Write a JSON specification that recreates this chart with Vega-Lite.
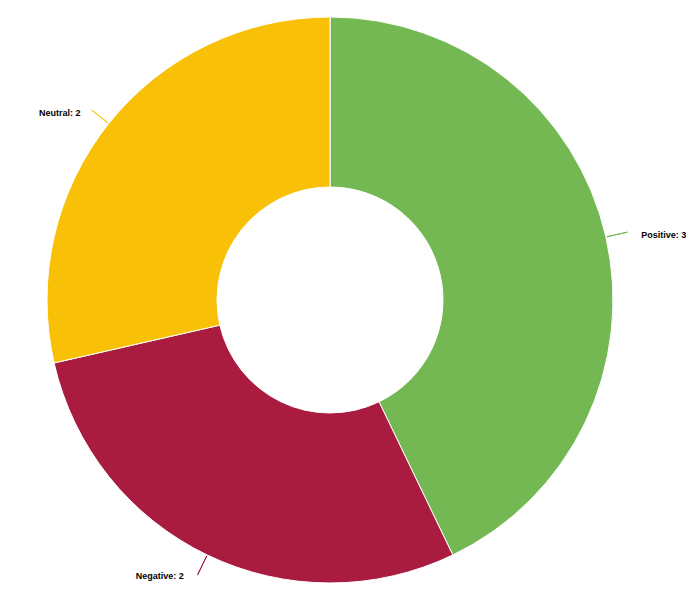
{
  "$schema": "https://vega.github.io/schema/vega-lite/v6.json",
  "width": 660,
  "height": 600,
  "autosize": "none",
  "padding": {"left": 0, "top": 0, "right": 28, "bottom": 15},
  "background": "white",
  "view": {"stroke": null},
  "data": {
    "values": [
      {"category": "Positive", "count": 3, "order": 1},
      {"category": "Negative", "count": 2, "order": 2},
      {"category": "Neutral", "count": 2, "order": 3}
    ]
  },
  "transform": [
    {"calculate": "datum.category + ': ' + datum.count", "as": "label"}
  ],
  "encoding": {
    "theta": {"field": "count", "type": "quantitative", "stack": true},
    "order": {"field": "order", "type": "quantitative"},
    "color": {
      "field": "category",
      "type": "nominal",
      "scale": {
        "domain": ["Positive", "Negative", "Neutral"],
        "range": ["#74b854", "#a91c40", "#f8c107"]
      },
      "legend": null
    }
  },
  "layer": [
    {
      "mark": {"type": "arc", "innerRadius": 113, "outerRadius": 283, "stroke": "white", "strokeWidth": 1}
    },
    {
      "mark": {"type": "arc", "innerRadius": 284, "outerRadius": 305, "padAngle": 3, "fillOpacity": 0, "strokeWidth": 1},
      "encoding": {
        "stroke": {"field": "category", "type": "nominal", "scale": {"domain": ["Positive", "Negative", "Neutral"], "range": ["#74b854", "#a91c40", "#f8c107"]}, "legend": null}
      }
    },
    {
      "mark": {
        "type": "text",
        "radius": 314,
        "font": "Liberation Sans",
        "fontSize": 9,
        "fontWeight": "bold",
        "baseline": "middle",
        "align": {"expr": "datum.category === 'Positive' ? 'left' : 'right'"},
        "dx": {"expr": "datum.category === 'Positive' ? 5 : datum.category === 'Neutral' ? -4 : -10"},
        "dy": {"expr": "datum.category === 'Positive' ? 5 : datum.category === 'Neutral' ? 9 : -7"}
      },
      "encoding": {
        "text": {"field": "label", "type": "nominal"},
        "color": {"value": "black"}
      }
    }
  ]
}
